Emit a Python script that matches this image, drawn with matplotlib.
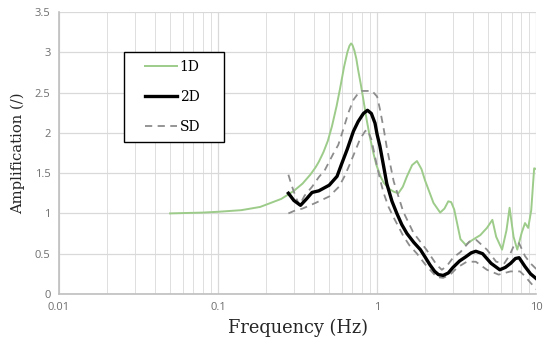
import matplotlib
matplotlib.use("Agg")
import matplotlib.pyplot as plt
from matplotlib.ticker import FixedLocator, NullFormatter, LogLocator
from matplotlib.patches import Rectangle

f_1d = [0.05, 0.08, 0.1, 0.14, 0.184, 0.25, 0.3, 0.34, 0.38, 0.41, 0.43, 0.46, 0.49, 0.52, 0.556,
        0.585, 0.62, 0.65, 0.67, 0.686, 0.70, 0.72, 0.74, 0.76, 0.79, 0.82, 0.86, 0.90, 0.95, 0.99,
        1.05, 1.10, 1.2, 1.27, 1.36, 1.45, 1.54, 1.66, 1.78, 1.9, 2.0, 2.26, 2.49, 2.65, 2.8, 2.92,
        3.05, 3.34, 3.6, 3.9, 4.2, 4.45, 4.9, 5.3, 5.6, 6.1, 6.5, 6.8, 7.2, 7.6, 8.1, 8.5, 8.9, 9.3,
        9.7, 10]
a_1d = [1.00, 1.01, 1.02, 1.04, 1.08, 1.18, 1.28, 1.37, 1.48, 1.57, 1.64, 1.76, 1.90, 2.08, 2.33,
        2.55, 2.82, 3.00, 3.08, 3.11, 3.09, 3.02, 2.92, 2.78, 2.60, 2.41, 2.16, 1.95, 1.74, 1.60,
        1.46, 1.38, 1.30, 1.27, 1.25, 1.33, 1.46, 1.60, 1.65, 1.55, 1.41, 1.13, 1.01, 1.06, 1.15, 1.14,
        1.05, 0.68, 0.61, 0.66, 0.70, 0.73, 0.82, 0.92, 0.71, 0.55, 0.79, 1.07, 0.71, 0.55, 0.76, 0.88,
        0.82, 1.04, 1.56, 1.55]

f_2d = [0.277, 0.30, 0.33, 0.36, 0.39, 0.43, 0.50, 0.56, 0.60, 0.65, 0.71, 0.76, 0.82, 0.87, 0.92,
        0.97, 1.0, 1.04, 1.1, 1.15, 1.24, 1.33, 1.43, 1.54, 1.7, 1.87, 2.0, 2.15, 2.3, 2.43, 2.6, 2.8,
        3.0, 3.3, 3.6, 3.9, 4.17, 4.6, 5.2, 5.9, 6.4, 6.9, 7.4, 7.8, 8.5, 9.2, 10]
a_2d = [1.25, 1.16, 1.10, 1.18, 1.26, 1.28, 1.35, 1.46, 1.62, 1.80, 2.02, 2.14, 2.24, 2.28, 2.24,
        2.12, 1.98, 1.84, 1.58, 1.37, 1.15, 1.00, 0.86, 0.75, 0.64, 0.55, 0.46, 0.36, 0.28, 0.24, 0.23, 0.26,
        0.33, 0.41, 0.46, 0.51, 0.53, 0.50, 0.38, 0.30, 0.33, 0.38, 0.44, 0.45, 0.34, 0.25, 0.19]

f_sd_up = [0.277, 0.29, 0.31, 0.325, 0.35, 0.39, 0.43, 0.47, 0.53, 0.57, 0.61, 0.66, 0.71, 0.76, 0.80,
           0.93, 1.0, 1.04, 1.1, 1.15, 1.27, 1.46, 1.69, 2.04, 2.37, 2.55, 2.75, 3.0, 3.34, 3.8, 4.2,
           4.9, 5.6, 6.3, 6.8, 7.2, 7.8, 8.5, 9.2, 10]
a_sd_up = [1.48, 1.35, 1.19, 1.10, 1.22, 1.33, 1.45, 1.54, 1.74, 1.85, 2.03, 2.25, 2.41, 2.49, 2.52,
           2.52, 2.45, 2.30, 2.05, 1.82, 1.40, 1.02, 0.76, 0.55, 0.36, 0.30, 0.35, 0.45, 0.52, 0.65, 0.67,
           0.55, 0.40, 0.38, 0.48, 0.59, 0.63, 0.47, 0.38, 0.31]

f_sd_lo = [0.277, 0.30, 0.34, 0.41, 0.5, 0.575, 0.62, 0.67, 0.72, 0.78, 0.84, 0.87, 0.92, 0.99, 1.05,
           1.1, 1.18, 1.27, 1.46, 1.6, 1.78, 2.0, 2.15, 2.37, 2.6, 2.88, 3.2, 3.66, 4.17, 4.9, 5.8,
           6.9, 7.9, 8.5, 9.1, 10]
a_sd_lo = [1.00, 1.03, 1.06, 1.13, 1.21, 1.33, 1.45, 1.60, 1.75, 1.92, 2.02, 2.04, 1.92, 1.62, 1.40,
           1.25, 1.08, 0.95, 0.72, 0.60, 0.50, 0.37, 0.30, 0.21, 0.20, 0.24, 0.33, 0.40, 0.40, 0.30, 0.24,
           0.28, 0.28, 0.22, 0.15, 0.06]

y_ticks = [0, 0.5, 1, 1.5, 2, 2.5, 3, 3.5]
y_labels = ["0", "0.5", "1", "1.5", "2", "2.5", "3", "3.5"]
x_ticks = [0.01, 0.1, 1, 10]
x_labels = ["0.01", "0.1", "1", "10"]

fig = plt.figure(figsize=(5.5, 3.43), dpi=100)
ax = fig.add_axes([0.107, 0.143, 0.868, 0.822])
ax.set_xscale("log")
ax.set_xlim(0.01, 10)
ax.set_ylim(0, 3.5)

grid_c = "#d9d9d9"
ax.xaxis.set_major_locator(FixedLocator(x_ticks))
ax.xaxis.set_minor_locator(LogLocator(base=10, subs=range(2, 10), numticks=20))
ax.xaxis.set_minor_formatter(NullFormatter())
ax.set_xticklabels(x_labels)
ax.set_yticks(y_ticks)
ax.set_yticklabels(y_labels)
ax.grid(True, which="major", color=grid_c, lw=0.9)
ax.grid(True, which="minor", axis="x", color=grid_c, lw=0.6)
ax.set_axisbelow(True)
for s in ["top", "right"]:
    ax.spines[s].set_visible(False)
for s in ["left", "bottom"]:
    ax.spines[s].set_color("#bfbfbf")
    ax.spines[s].set_linewidth(1.2)
ax.tick_params(which="both", length=0, colors="#6e6e6e", labelsize=8, pad=6)
for lbl in ax.get_xticklabels() + ax.get_yticklabels():
    lbl.set_fontfamily("Open Sans")

ax.plot(f_1d, a_1d, color="#9dcc8a", lw=1.4, label="1D", zorder=3)
ax.plot(f_2d, a_2d, color="black", lw=2.4, label="2D", zorder=5)
ax.plot(f_sd_up, a_sd_up, color="#8c8c8c", lw=1.3, ls=(0, (4, 3)), label="SD", zorder=4)
ax.plot(f_sd_lo, a_sd_lo, color="#8c8c8c", lw=1.3, ls=(0, (4, 3)), zorder=4)

# legend box
ax.add_patch(Rectangle((0.1363, 0.539), 0.2096, 0.319, transform=ax.transAxes,
                       facecolor="white", edgecolor="black", lw=1.0, zorder=6))
leg = ax.legend(loc="center left", bbox_to_anchor=(0.1803, 0.6986), frameon=False,
                handlelength=2.3, handletextpad=0.2, labelspacing=1.15,
                borderpad=0, borderaxespad=0,
                prop={"family": "DejaVu Serif", "size": 10})
leg.set_zorder(7)

ax.set_xlabel("Frequency (Hz)", family="DejaVu Serif", fontsize=12.8, color="#262626", labelpad=4)
ax.set_ylabel("Amplification (/)", family="DejaVu Serif", fontsize=10.6, color="#262626", labelpad=7)

fig.savefig("out.png", dpi=100)
